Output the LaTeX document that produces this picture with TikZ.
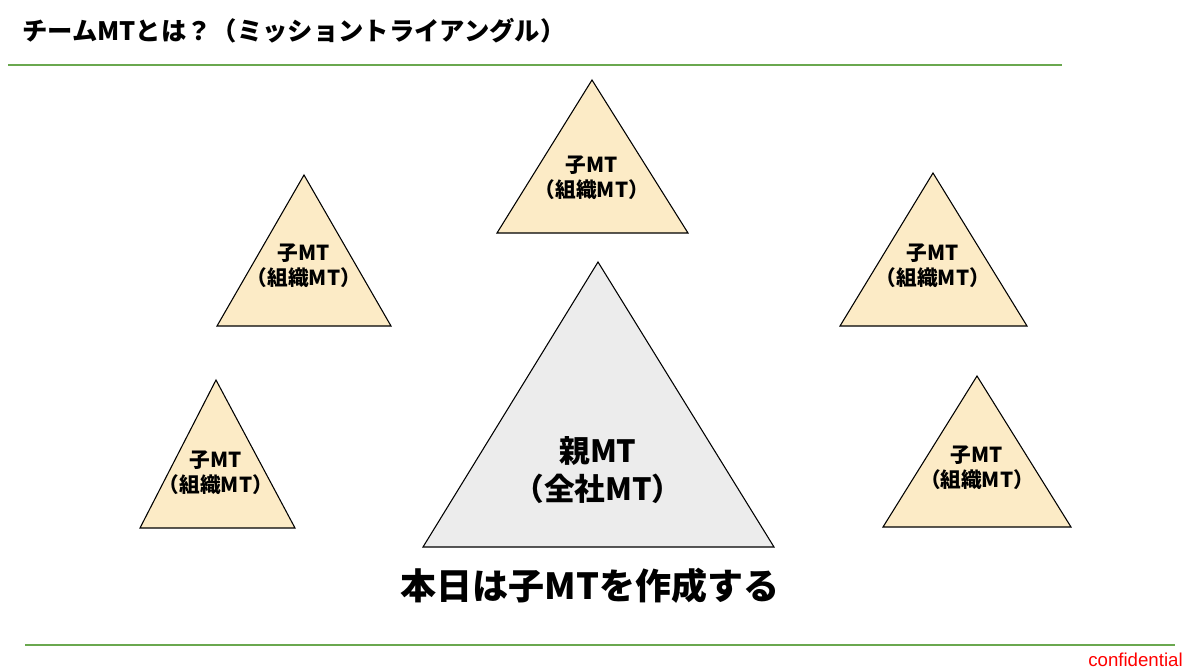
\documentclass[tikz,border=0pt]{standalone}
\usepackage{fontspec}
\setmainfont{Noto Sans CJK JP}
\setsansfont{Liberation Sans}
\begin{document}
\begin{tikzpicture}[x=0.75pt,y=-0.75pt,
  tri/.style={draw=black,line width=0.8pt,line join=miter},
  small/.style={tri,fill=tcol},
  lab/.style={font=\bfseries\fontsize{15.5}{19}\selectfont,align=center,inner sep=0pt}]
\definecolor{tcol}{HTML}{FCEBC6}
\definecolor{gcol}{HTML}{ECECEC}
\definecolor{lgreen}{HTML}{6AA84F}
\useasboundingbox (0,0) rectangle (1200,671);
\fill[white] (0,0) rectangle (1200,671);
\node[anchor=west,font=\bfseries\fontsize{19}{22}\selectfont,inner sep=0pt] (title) at (22,31) {チームMTとは？（ミッショントライアングル）};
\draw[lgreen,line width=1pt] (8,65) coordinate (g1) -- (1062,65) coordinate (g2);
\draw[lgreen,line width=0.8pt] (25,645) coordinate (g3) -- (1175,645) coordinate (g4);
\node[anchor=east,text=red,font=\sffamily\fontsize{14}{16}\selectfont,inner sep=0pt] (conf) at (1183,660) {confidential};
% triangles
\draw[small] (592,80) -- (688,233) -- (497,233) -- cycle;
\node[lab] (t1) at (592,178) {子MT\\（組織MT）};
\draw[small] (304,175) -- (391,326) -- (217,326) -- cycle;
\node[lab] (t2) at (304,266) {子MT\\（組織MT）};
\draw[small] (933,173) -- (1027,326) -- (840,326) -- cycle;
\node[lab] (t3) at (933,266) {子MT\\（組織MT）};
\draw[small] (216,380) -- (295,528) -- (140,528) -- cycle;
\node[lab] (t4) at (216,473) {子MT\\（組織MT）};
\draw[small] (977,376) -- (1071,527) -- (883,527) -- cycle;
\node[lab] (t5) at (977,468) {子MT\\（組織MT）};
\draw[tri,fill=gcol] (598,262) -- (774,547) -- (423,547) -- cycle;
\node[lab,font=\bfseries\fontsize{23}{29}\selectfont] (c) at (598,470) {親MT\\（全社MT）};
\node[font=\bfseries\fontsize{27}{30}\selectfont,inner sep=0pt] (main) at (590,586) {本日は子MTを作成する};
\end{tikzpicture}
\end{document}
